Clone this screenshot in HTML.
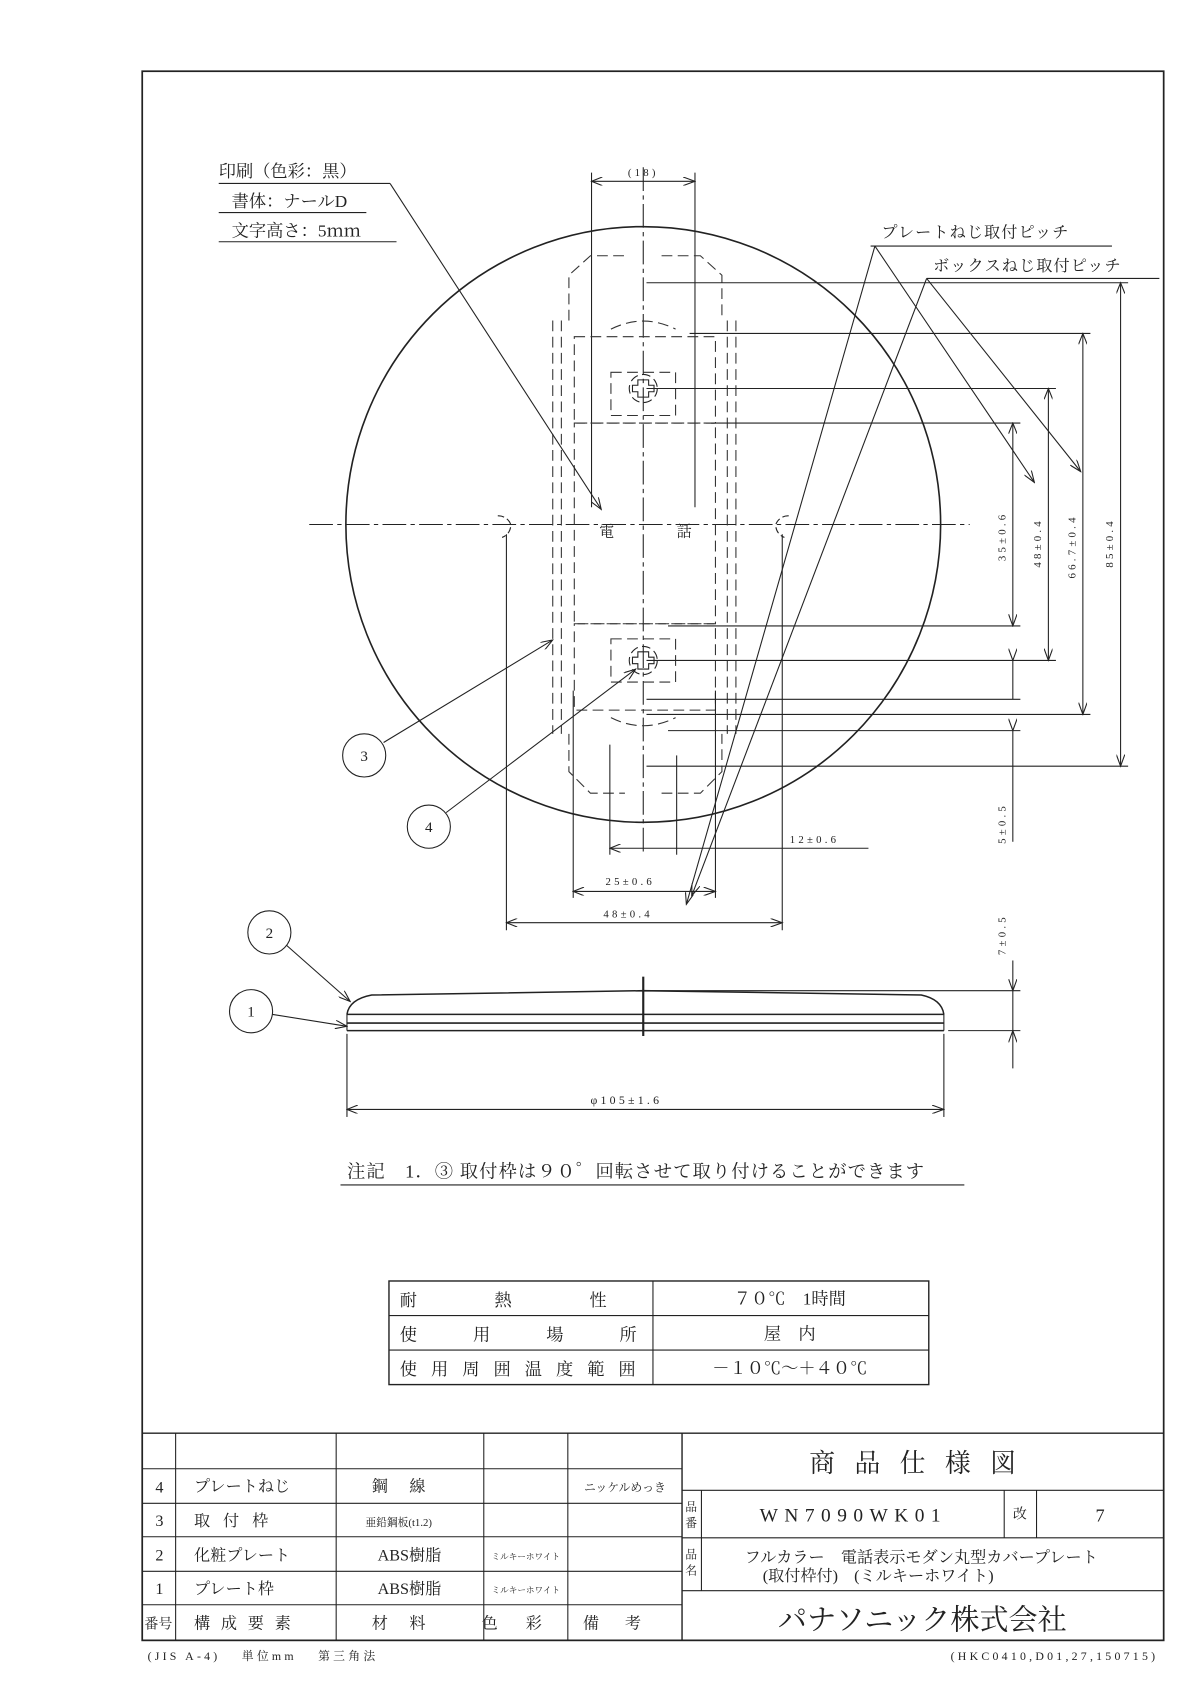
<!DOCTYPE html>
<html><head><meta charset="utf-8"><style>
html,body{margin:0;padding:0;background:#fff;}
svg{display:block;}
text{font-family:"Liberation Serif","Noto Serif CJK SC","Noto Sans CJK JP",serif;fill:#222;}
</style></head><body>
<svg width="1196" height="1690" viewBox="0 0 1110 1566" preserveAspectRatio="none" xmlns="http://www.w3.org/2000/svg">
<defs>
<marker id="a" markerWidth="12" markerHeight="8" refX="11" refY="4" orient="auto" markerUnits="userSpaceOnUse"><path d="M0,0 L11,4 L0,8" fill="none" stroke="#222" stroke-width="1"/></marker>
<marker id="b" markerWidth="12" markerHeight="8" refX="1" refY="4" orient="auto" markerUnits="userSpaceOnUse"><path d="M11,0 L1,4 L11,8" fill="none" stroke="#222" stroke-width="1"/></marker>
</defs>
<g stroke="#222" fill="none" stroke-width="1">
<rect x="132" y="66" width="948" height="1454" stroke-width="1.6"/>
<circle cx="597" cy="486" r="276" stroke-width="1.5"/>
<line x1="597" y1="155" x2="597" y2="790" stroke-dasharray="22,4,4,4"/>
<line x1="287" y1="486" x2="900" y2="486" stroke-dasharray="22,4,4,4"/>
<line x1="549" y1="160" x2="549" y2="470"/><line x1="645" y1="160" x2="645" y2="470"/>
<line x1="549" y1="168" x2="645" y2="168" marker-start="url(#b)" marker-end="url(#a)"/>
<g stroke-dasharray="10,5" stroke="#333">
<path d="M513,297 V680 M521,297 V680 M683,297 V680 M675,297 V680"/>
<path d="M528,297 V255 L548,237 H580 M614,237 H650 L670,255 V297"/>
<path d="M528,680 V715 L548,735 H580 M614,735 H650 L670,715 V680"/>
<rect x="533" y="392" width="131" height="186"/>
<rect x="533" y="578" width="131" height="80"/>
<rect x="533" y="312" width="131" height="80"/>
<rect x="567" y="345" width="60" height="40"/>
<rect x="567" y="592" width="60" height="40"/>
<path d="M567,305 Q597,290 627,305 M567,665 Q597,680 627,665"/>
</g>
<line x1="600" y1="262" x2="1047" y2="262"/>
<line x1="640" y1="309" x2="1012" y2="309"/>
<line x1="600" y1="360" x2="980" y2="360"/>
<line x1="660" y1="392" x2="947" y2="392"/>
<line x1="620" y1="580" x2="947" y2="580"/>
<line x1="600" y1="612" x2="980" y2="612"/>
<line x1="600" y1="648" x2="947" y2="648"/>
<line x1="600" y1="662" x2="1012" y2="662"/>
<line x1="620" y1="677" x2="947" y2="677"/>
<line x1="600" y1="710" x2="1047" y2="710"/>
<line x1="940" y1="392" x2="940" y2="580" marker-start="url(#b)" marker-end="url(#a)"/>
<line x1="973" y1="360" x2="973" y2="612" marker-start="url(#b)" marker-end="url(#a)"/>
<line x1="1005" y1="309" x2="1005" y2="662" marker-start="url(#b)" marker-end="url(#a)"/>
<line x1="1040" y1="262" x2="1040" y2="710" marker-start="url(#b)" marker-end="url(#a)"/>
<line x1="940" y1="612" x2="940" y2="648" marker-start="url(#a)"/>
<line x1="940" y1="677" x2="940" y2="780" marker-start="url(#a)"/>
<g stroke-width="1">
<path d="M592,352 h10 v5 h5 v6 h-5 v5 h-10 v-5 h-5 v-6 h5 z"/>
<path d="M592,604 h10 v5 h5 v6 h-5 v5 h-10 v-5 h-5 v-6 h5 z"/>
<circle cx="597" cy="360" r="13" stroke-dasharray="8,4"/>
<circle cx="597" cy="612" r="13" stroke-dasharray="8,4"/>
</g>
<path d="M462,478 a12,12 0 0 1 12,8 a12,12 0 0 1 -8,12" stroke-dasharray="6,3"/>
<path d="M732,478 a12,12 0 0 0 -12,8 a12,12 0 0 0 8,12" stroke-dasharray="6,3"/>
<line x1="566" y1="690" x2="566" y2="792"/><line x1="628" y1="700" x2="628" y2="792"/>
<line x1="566" y1="786" x2="806" y2="786" marker-start="url(#b)"/>
<line x1="532" y1="640" x2="532" y2="832"/><line x1="664" y1="640" x2="664" y2="832"/>
<line x1="532" y1="826" x2="664" y2="826" marker-start="url(#b)" marker-end="url(#a)"/>
<line x1="470" y1="495" x2="470" y2="862"/><line x1="726" y1="495" x2="726" y2="862"/>
<line x1="470" y1="855" x2="726" y2="855" marker-start="url(#b)" marker-end="url(#a)"/>
<line x1="203" y1="170" x2="362" y2="170"/><line x1="203" y1="197" x2="340" y2="197"/><line x1="203" y1="224" x2="368" y2="224"/>
<line x1="362" y1="170" x2="558" y2="472" marker-end="url(#a)"/>
<line x1="808" y1="228" x2="1032" y2="228"/>
<line x1="860" y1="258" x2="1076" y2="258"/>
<line x1="812" y1="228" x2="960" y2="447" marker-end="url(#a)"/>
<line x1="812" y1="228" x2="637" y2="838" marker-end="url(#a)"/>
<line x1="860" y1="258" x2="1003" y2="437" marker-end="url(#a)"/>
<line x1="860" y1="258" x2="642" y2="830" marker-end="url(#a)"/>
<circle cx="338" cy="700" r="20"/><line x1="356" y1="688" x2="513" y2="593" marker-end="url(#a)"/>
<circle cx="398" cy="766" r="20"/><line x1="414" y1="753" x2="590" y2="620" marker-end="url(#a)"/>
<circle cx="250" cy="864" r="20"/><line x1="266" y1="876" x2="325" y2="928" marker-end="url(#a)"/>
<circle cx="233" cy="937" r="20"/><line x1="253" y1="940" x2="322" y2="951" marker-end="url(#a)"/>
<path d="M322,940 Q324,926 345,922 L597,918 L855,922 Q874,926 876,940" stroke-width="1.4"/>
<line x1="322" y1="940" x2="876" y2="940" stroke-width="1.4"/>
<line x1="322" y1="948" x2="876" y2="948" stroke-width="1.4"/>
<line x1="322" y1="955" x2="876" y2="955" stroke-width="1.4"/>
<line x1="322" y1="940" x2="322" y2="955"/><line x1="876" y1="940" x2="876" y2="955"/>
<line x1="597" y1="905" x2="597" y2="960" stroke-width="2"/>
<line x1="605" y1="918" x2="947" y2="918"/><line x1="880" y1="955" x2="947" y2="955"/>
<line x1="940" y1="890" x2="940" y2="918" marker-end="url(#a)"/>
<line x1="940" y1="918" x2="940" y2="955"/>
<line x1="940" y1="990" x2="940" y2="955" marker-end="url(#a)"/>
<line x1="322" y1="958" x2="322" y2="1035"/><line x1="876" y1="958" x2="876" y2="1035"/>
<line x1="322" y1="1028" x2="876" y2="1028" marker-start="url(#b)" marker-end="url(#a)"/>
<line x1="316" y1="1098" x2="895" y2="1098"/>
<rect x="361" y="1187" width="501" height="96" stroke-width="1.3"/>
<line x1="361" y1="1219" x2="862" y2="1219"/><line x1="361" y1="1251" x2="862" y2="1251"/>
<line x1="606" y1="1187" x2="606" y2="1283"/>
<line x1="132" y1="1328" x2="1080" y2="1328" stroke-width="1.3"/>
<g>
<line x1="132" y1="1361" x2="633" y2="1361"/>
<line x1="132" y1="1393" x2="633" y2="1393"/>
<line x1="132" y1="1424" x2="633" y2="1424"/>
<line x1="132" y1="1456" x2="633" y2="1456"/>
<line x1="132" y1="1487" x2="633" y2="1487"/>
<line x1="163" y1="1328" x2="163" y2="1520"/>
<line x1="312" y1="1328" x2="312" y2="1520"/>
<line x1="449" y1="1328" x2="449" y2="1520"/>
<line x1="527" y1="1328" x2="527" y2="1520"/>
<line x1="633" y1="1328" x2="633" y2="1520" stroke-width="1.3"/>
<line x1="633" y1="1381" x2="1080" y2="1381"/>
<line x1="633" y1="1425" x2="1080" y2="1425"/>
<line x1="633" y1="1474" x2="1080" y2="1474"/>
<line x1="651" y1="1381" x2="651" y2="1474"/>
<line x1="932" y1="1381" x2="932" y2="1425"/>
<line x1="962" y1="1381" x2="962" y2="1425"/>
</g>
</g>
<g stroke="none">
<text x="203" y="164" font-size="16">印刷（色彩：黒）</text>
<text x="215" y="192" font-size="16">書体：ナールD</text>
<text x="215" y="219" font-size="16">文字高さ：5ｍｍ</text>
<text x="597" y="163" font-size="10" text-anchor="middle" letter-spacing="3">(18)</text>
<text x="818" y="220" font-size="15" letter-spacing="1">プレートねじ取付ピッチ</text>
<text x="866" y="251" font-size="15" letter-spacing="1">ボックスねじ取付ピッチ</text>
<text x="556" y="497" font-size="14">電</text>
<text x="628" y="497" font-size="14">話</text>
<g font-size="10" letter-spacing="3">
<text transform="translate(933,520) rotate(-90)">35±0.6</text>
<text transform="translate(966,526) rotate(-90)">48±0.4</text>
<text transform="translate(998,536) rotate(-90)">66.7±0.4</text>
<text transform="translate(1033,526) rotate(-90)">85±0.4</text>
<text transform="translate(933,782) rotate(-90)">5±0.5</text>
<text transform="translate(933,885) rotate(-90)">7±0.5</text>
<text x="733" y="781">12±0.6</text>
<text x="562" y="820">25±0.6</text>
<text x="560" y="850">48±0.4</text>
<text x="548" y="1023" font-size="11">φ105±1.6</text>
</g>
<g font-size="14" text-anchor="middle">
<text x="338" y="705">3</text><text x="398" y="771">4</text>
<text x="250" y="869">2</text><text x="233" y="942">1</text>
</g>
<text x="322" y="1091" font-size="17" letter-spacing="1">注記　1．③ 取付枠は９０゜回転させて取り付けることができます</text>
<g font-size="16">
<text x="371" y="1210" letter-spacing="72">耐熱性</text>
<text x="371" y="1242" letter-spacing="52">使用場所</text>
<text x="371" y="1274" letter-spacing="13">使用周囲温度範囲</text>
<text x="733" y="1209" text-anchor="middle">７０℃　1時間</text>
<text x="733" y="1241" text-anchor="middle">屋　内</text>
<text x="733" y="1273" text-anchor="middle">－１０℃～＋４０℃</text>
</g>
<g font-size="15">
<text x="148" y="1383" text-anchor="middle">4</text>
<text x="148" y="1414" text-anchor="middle">3</text>
<text x="148" y="1446" text-anchor="middle">2</text>
<text x="148" y="1477" text-anchor="middle">1</text>
<text x="147" y="1509" text-anchor="middle" font-size="13">番号</text>
<text x="180" y="1382">プレートねじ</text>
<text x="180" y="1414" letter-spacing="12">取付枠</text>
<text x="180" y="1446">化粧プレート</text>
<text x="180" y="1477">プレート枠</text>
<text x="180" y="1509" letter-spacing="10">構成要素</text>
<text x="380" y="1382" text-anchor="middle" letter-spacing="20">鋼線</text>
<text x="370" y="1414" text-anchor="middle" font-size="10">亜鉛鋼板(t1.2)</text>
<text x="380" y="1446" text-anchor="middle">ABS樹脂</text>
<text x="380" y="1477" text-anchor="middle">ABS樹脂</text>
<text x="380" y="1509" text-anchor="middle" letter-spacing="20">材料</text>
<text x="488" y="1445" text-anchor="middle" font-size="8">ミルキーホワイト</text>
<text x="488" y="1476" text-anchor="middle" font-size="8">ミルキーホワイト</text>
<text x="488" y="1509" text-anchor="middle" letter-spacing="26">色彩</text>
<text x="580" y="1382" text-anchor="middle" font-size="11">ニッケルめっき</text>
<text x="580" y="1509" text-anchor="middle" letter-spacing="24">備考</text>
<text x="856" y="1364" text-anchor="middle" font-size="24" letter-spacing="18">商品仕様図</text>
<text x="636" y="1400" font-size="11">品</text><text x="636" y="1415" font-size="11">番</text>
<text x="636" y="1444" font-size="11">品</text><text x="636" y="1459" font-size="11">名</text>
<text x="792" y="1410" text-anchor="middle" font-size="18" letter-spacing="6">WN7090WK01</text>
<text x="940" y="1407" font-size="13">改</text>
<text x="1021" y="1410" text-anchor="middle" font-size="17">7</text>
<text x="855" y="1448" text-anchor="middle" font-size="15">フルカラー　電話表示モダン丸型カバープレート</text>
<text x="815" y="1465" text-anchor="middle" font-size="15">(取付枠付)　(ミルキーホワイト)</text>
<text x="856" y="1510" text-anchor="middle" font-size="27">パナソニック株式会社</text>
</g>
<text x="137" y="1538" font-size="11" letter-spacing="3">(JIS A-4)　 単位mm　 第三角法</text>
<text x="1075" y="1538" font-size="11" letter-spacing="3" text-anchor="end">(HKC0410,D01,27,150715)</text>
</g>
</svg>
</body></html>
